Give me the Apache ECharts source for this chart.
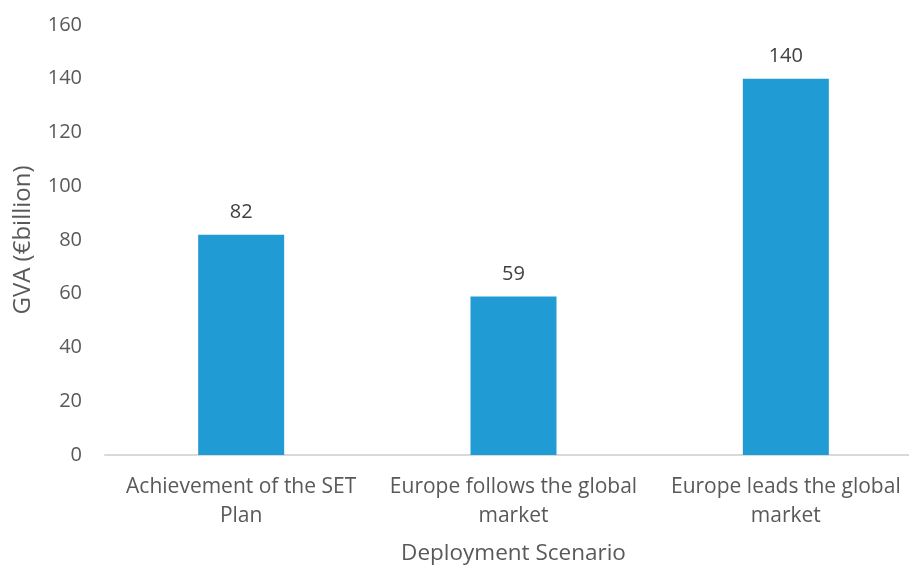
<!DOCTYPE html>
<html>
<head>
<meta charset="utf-8">
<script src="https://cdn.jsdelivr.net/npm/echarts@6/dist/echarts.min.js"></script>
<style>
  html, body { margin: 0; padding: 0; background: #fff; }
  #main { width: 909px; height: 565px; }
</style>
</head>
<body>
<div id="main"></div>
<script>
// 部署情景
var scenarios = ['Achievement of the SET\nPlan', 'Europe follows the global\nmarket', 'Europe leads the global\nmarket'];
// GVA 数值 (€billion)
var gvaValues = [82, 59, 140];
var yTicks = [0, 20, 40, 60, 80, 100, 120, 140, 160];

var textColor = '#595959';
var font = 'Open Sans';

var myChart = echarts.init(document.getElementById('main'));
myChart.setOption({
    animation: false,
    // 网格宽度超出画面右边，轴线延伸到边缘
    grid: { left: 105, width: 817, top: 25, bottom: 110, outerBoundsMode: 'none' },
    xAxis: {
        type: 'category',
        data: scenarios,
        name: 'Deployment Scenario',
        nameLocation: 'middle',
        nameGap: 87,
        nameTextStyle: { color: textColor, fontSize: 22.5, fontFamily: font },
        axisLine: { lineStyle: { color: '#D9D9D9', width: 2 } },
        axisTick: { show: false },
        axisLabel: { color: textColor, fontSize: 21, fontFamily: font, lineHeight: 29, margin: 18, interval: 0 }
    },
    yAxis: {
        type: 'value',
        min: yTicks[0],
        max: yTicks[yTicks.length - 1],
        interval: 20,
        name: 'GVA (€billion)',
        nameLocation: 'middle',
        nameGap: 70,
        nameTextStyle: { color: textColor, fontSize: 24, fontFamily: font },
        axisLine: { show: false },
        axisTick: { show: false },
        splitLine: { show: false },
        axisLabel: { color: textColor, fontSize: 20, fontFamily: font, margin: 23 }
    },
    series: [{
        type: 'bar',
        data: gvaValues,
        barWidth: 86,
        itemStyle: { color: '#209BD3' },
        label: {
            show: true,
            position: 'top',
            distance: 12,
            color: '#404040',
            fontSize: 20,
            fontFamily: font
        }
    }]
});
</script>
</body>
</html>
